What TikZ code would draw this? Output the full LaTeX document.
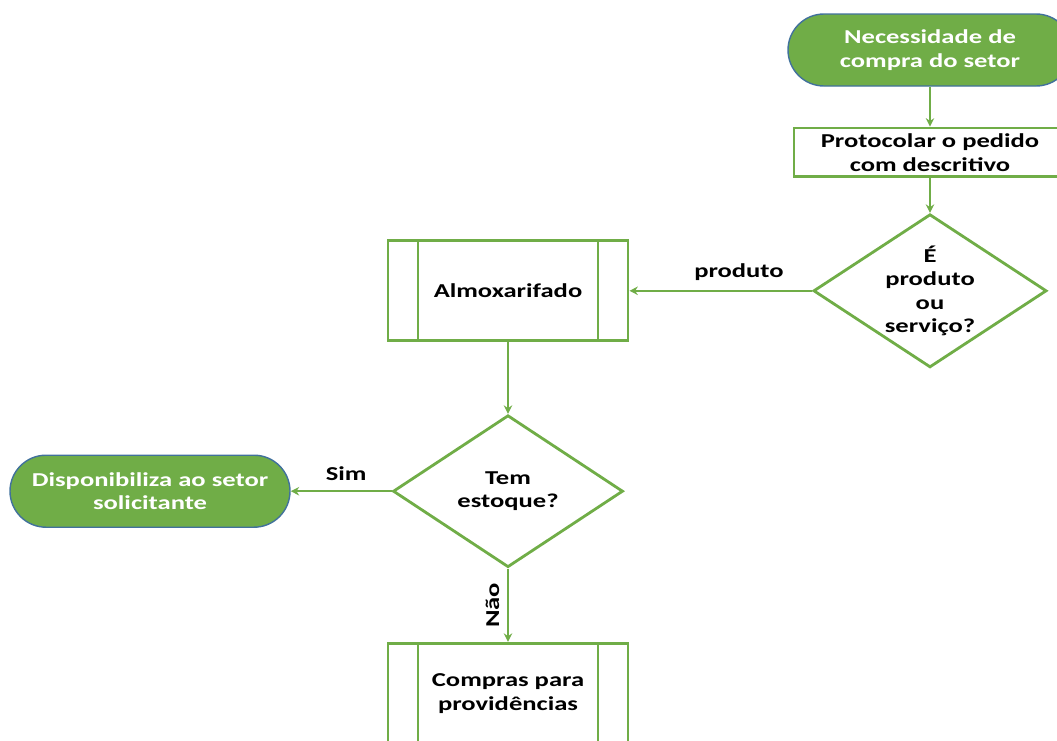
\documentclass[tikz,border=0pt]{standalone}
\usepackage{fontspec}
\setmainfont[FakeStretch=1.35]{Carlito}
\usetikzlibrary{shapes.geometric,arrows.meta}
\definecolor{offgreen}{HTML}{70AD47}
\definecolor{offblue}{HTML}{41719C}
\tikzset{
  terminal/.style={draw=offblue,line width=1pt,fill=offgreen,text=white,
    rounded corners=0.9cm,minimum height=1.8cm,align=center,
    font=\fontsize{14}{17}\selectfont\bfseries},
  stepbox/.style={draw=offgreen,line width=2pt,align=center,
    font=\fontsize{14}{17}\selectfont\bfseries},
  predef/.style={stepbox,minimum width=6cm,minimum height=2.5cm,
    path picture={
      \draw[offgreen,line width=2pt]
        ([xshift=0.75cm]path picture bounding box.north west) --
        ([xshift=0.75cm]path picture bounding box.south west);
      \draw[offgreen,line width=2pt]
        ([xshift=-0.75cm]path picture bounding box.north east) --
        ([xshift=-0.75cm]path picture bounding box.south east);}},
  decision/.style={stepbox,diamond,aspect=1.5,inner sep=0pt,
    font=\fontsize{14}{16.5}\selectfont\bfseries},
  flow/.style={draw=offgreen,line width=1.7pt,->},
  lbl/.style={font=\fontsize{14}{17}\selectfont\bfseries,text=black}
}
\begin{document}
\begin{tikzpicture}[>={Stealth[length=6pt,width=6pt]}]
    \useasboundingbox (0,0) rectangle (26.425,-18.5);
    \clip (0,0) rectangle (26.425,-18.5);
    \node[terminal,minimum width=7.1cm] (need) at (23.25,-1.25)
      {Necessidade de\\compra do setor};
    \node[stepbox,minimum width=6.8cm,minimum height=1.22cm] (protocol)
      at (23.25,-3.81) {Protocolar o pedido\\com descritivo};
    \node[decision,minimum width=5.83cm,minimum height=3.83cm] (kind)
      at (23.25,-7.27) {É\\produto\\ou\\serviço?};
    \node[predef] (store) at (12.7,-7.27) {Almoxarifado};
    \node[decision,minimum width=5.75cm,minimum height=3.8cm] (stock)
      at (12.7,-12.28) {Tem\\estoque?};
    \node[terminal,minimum width=7cm] (deliver) at (3.75,-12.28)
      {Disponibiliza ao setor\\solicitante};
    \node[predef] (buy) at (12.7,-17.33) {Compras para\\providências};
    \draw[flow] (need.south) -- (protocol.north);
    \draw[flow] (protocol.south) -- (kind.north);
    \draw[flow] (kind.west) -- node[lbl,above=3pt,pos=0.4] {produto}
      (store.east);
    \draw[flow] (store.south) -- (stock.north);
    \draw[flow] (stock.west) -- node[lbl,above=3pt,pos=0.45] {Sim}
      (deliver.east);
    \draw[flow] (stock.south) -- node[lbl,rotate=90,above=2pt,midway] {Não}
      (buy.north);
  \end{tikzpicture}
\end{document}
